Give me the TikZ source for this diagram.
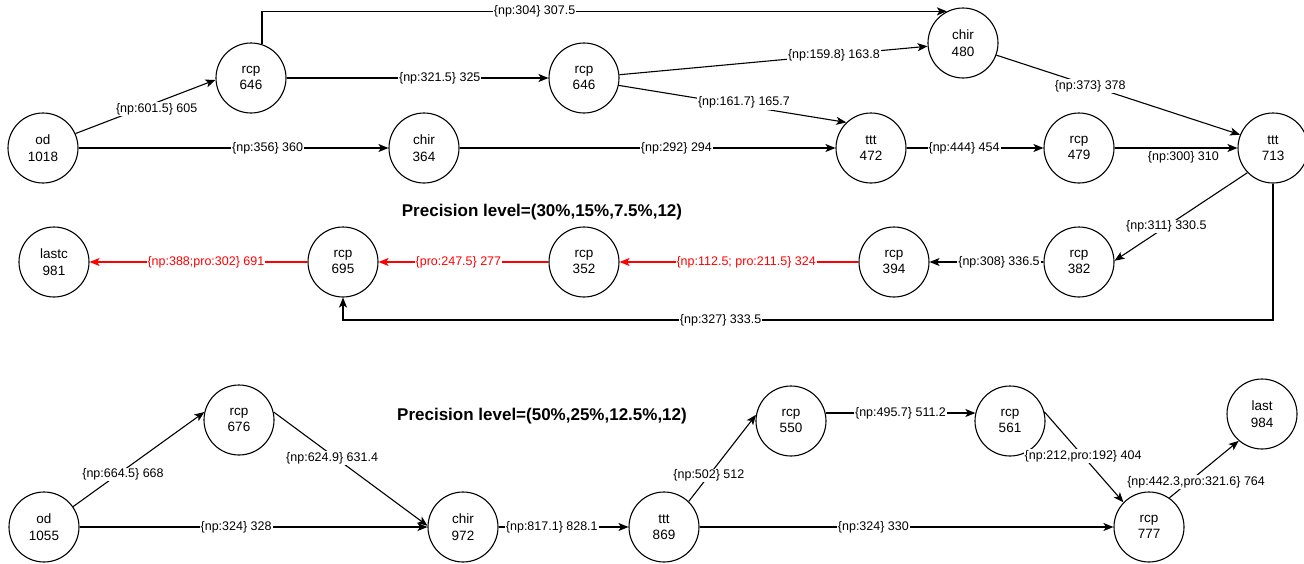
\documentclass[tikz,border=0pt]{standalone}
\usepackage{fontspec}
\setmainfont{Liberation Sans}
\usetikzlibrary{arrows.meta}
\begin{document}
\begin{tikzpicture}[x=1pt,y=-1pt,
  state/.style={circle,draw,line width=1.1pt,minimum size=70pt,inner sep=0pt,align=center,
    font=\fontsize{13.5}{16.5}\selectfont},
  arr/.style={line width=1.1pt,-{Stealth[length=10pt,width=8pt,inset=2.5pt]}},
  hot/.style={arr,red},
  lbl/.style={fill=white,inner sep=1pt,font=\fontsize{12.5}{14}\selectfont},
  headline/.style={font=\bfseries\fontsize{17}{20}\selectfont}
]
\useasboundingbox (0,0) rectangle (1304,563);

% ---- precision level (30%,15%,7.5%,12) ----
\node[state] (od1)  at (43,148)   {od\\1018};
\node[state] (rcpA) at (251,78)   {rcp\\646};
\node[state] (chirA) at (424,148) {chir\\364};
\node[state] (rcpB) at (584,78)   {rcp\\646};
\node[state] (tttA) at (871,148)  {ttt\\472};
\node[state] (chirB) at (963,43)  {chir\\480};
\node[state] (rcpC) at (1079,148) {rcp\\479};
\node[state] (tttB) at (1273,148) {ttt\\713};

\node[state] (lastc) at (54,262)  {lastc\\981};
\node[state] (rcpD) at (343,262)  {rcp\\695};
\node[state] (rcpE) at (584,262)  {rcp\\352};
\node[state] (rcpF) at (894,262)  {rcp\\394};
\node[state] (rcpG) at (1079,262) {rcp\\382};

\node[headline] (head1) at (542,212) {Precision level=(30\%,15\%,7.5\%,12)};

\draw[arr] (od1.24) -- node[lbl,pos=0.58,yshift=-6.5pt]{\{np:601.5\} 605} (rcpA.183);
\draw[arr] (od1) -- node[lbl,pos=0.61]{\{np:356\} 360} (chirA);
\draw[arr] (rcpA.72) |- node[lbl,pos=0.699]{\{np:304\} 307.5} (chirB.117);
\draw[arr] (rcpA) -- node[lbl,pos=0.585]{\{np:321.5\} 325} (rcpB);
\draw[arr] (rcpB) -- node[lbl,pos=0.696]{\{np:159.8\} 163.8} (chirB);
\draw[arr] (rcpB.-12) -- node[lbl,pos=0.55,yshift=3pt]{\{np:161.7\} 165.7} (tttA.134);
\draw[arr] (chirA) -- node[lbl,pos=0.577]{\{np:292\} 294} (tttA);
\draw[arr] (chirB.-20) -- node[lbl,pos=0.385]{\{np:373\} 378} (tttB.158);
\draw[arr] (tttA) -- node[lbl,pos=0.42]{\{np:444\} 454} (rcpC);
\draw[arr] (rcpC) -- node[lbl,pos=0.56,below=2pt]{\{np:300\} 310} (tttB);
\draw[arr] (tttB.224) -- node[lbl,pos=0.61]{\{np:311\} 330.5} (rcpG.2);
\draw[arr] (rcpG) -- node[lbl,pos=0.39]{\{np:308\} 336.5} (rcpF);
\draw[hot] (rcpF) -- node[lbl,pos=0.47]{\{np:112.5; pro:211.5\} 324} (rcpE);
\draw[hot] (rcpE) -- node[lbl,pos=0.53]{\{pro:247.5\} 277} (rcpD);
\draw[hot] (rcpD) -- node[lbl,pos=0.466]{\{np:388;pro:302\} 691} (lastc);

\coordinate (loopY) at (0,320);
\draw[arr] (tttB.south) -- (tttB.south |- loopY) -| node[lbl,pos=0.297]{\{np:327\} 333.5} (rcpD.south);

% ---- precision level (50%,25%,12.5%,12) ----
\node[state] (od2)  at (44,527)   {od\\1055};
\node[state] (rcpH) at (239,420)  {rcp\\676};
\node[state] (chirC) at (463,527) {chir\\972};
\node[state] (tttC) at (664,527)  {ttt\\869};
\node[state] (rcpI) at (791,421)  {rcp\\550};
\node[state] (rcpJ) at (1010,421) {rcp\\561};
\node[state] (lastn) at (1262,414) {last\\984};
\node[state] (rcpK) at (1149,527) {rcp\\777};

\node[headline] (head2) at (542,416) {Precision level=(50\%,25\%,12.5\%,12)};

\draw[arr] (od2.35) -- node[lbl,pos=0.38,yshift=-4pt]{\{np:664.5\} 668} (rcpH.167);
\draw[arr] (rcpH.13) -- node[lbl,pos=0.38,yshift=-3pt]{\{np:624.9\} 631.4} (chirC.178);
\draw[arr] (od2) -- node[lbl,pos=0.45]{\{np:324\} 328} (chirC);
\draw[arr] (chirC) -- node[lbl,pos=0.41]{\{np:817.1\} 828.1} (tttC);
\draw[arr] (tttC.46) -- node[lbl,pos=0.30]{\{np:502\} 512} (rcpI.170);
\draw[arr] (rcpI.13) -- node[lbl,pos=0.5]{\{np:495.7\} 511.2} (rcpJ.167);
\draw[arr] (rcpJ.15) -- node[lbl,pos=0.49]{\{np:212,pro:192\} 404} (rcpK.136);
\draw[arr] (tttC) -- node[lbl,pos=0.42]{\{np:324\} 330} (rcpK);
\draw[arr] (rcpK.55) -- node[lbl,pos=0.385,yshift=-6pt]{\{np:442.3,pro:321.6\} 764} (lastn.229);
\end{tikzpicture}
\end{document}
